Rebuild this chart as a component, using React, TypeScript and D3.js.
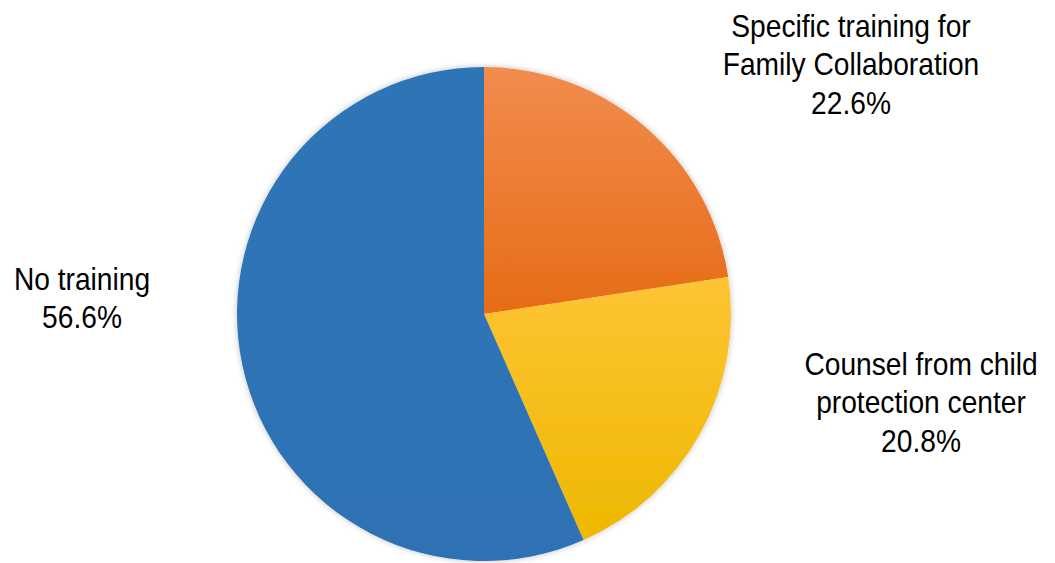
import React from "react";
import * as d3 from "d3";

const categories = ["Specific training for Family Collaboration", "Counsel from child protection center", "No training"];
const values = [22.6, 20.8, 56.6];
const labelLines = [
  ["Specific training for", "Family Collaboration", "22.6%"],
  ["Counsel from child", "protection center", "20.8%"],
  ["No training", "56.6%"],
];
const colorsTop = ["#F28C4E", "#FFC435", "#2E75B6"];
const colorsBottom = ["#E66C16", "#EDB800", "#2E72B4"];

const W = 1055, H = 563;
const cx = 484, cy = 314, R = 247;
const labelPos: [number, number][] = [[851, 37], [921, 375], [82, 290]];
const lineH = 38.5;

export default function App() {
  const pie = d3.pie<number>().sort(null).value((d) => d);
  const arcs = pie(values);
  const arc = d3.arc<d3.PieArcDatum<number>>().innerRadius(0).outerRadius(R);
  return (
    <svg width={W} height={H} style={{ position: "absolute", left: 0, top: 0, background: "#fff" }}>
      <defs>
        {categories.map((c, i) => (
          <linearGradient key={i} id={`g${i}`} x1="0" y1="0" x2="0" y2="1">
            <stop offset="0%" stopColor={colorsTop[i]} />
            <stop offset="100%" stopColor={colorsBottom[i]} />
          </linearGradient>
        ))}
        <filter id="sh" x="-10%" y="-10%" width="120%" height="120%">
          <feGaussianBlur in="SourceAlpha" stdDeviation="3" />
          <feComponentTransfer><feFuncA type="linear" slope="0.25" /></feComponentTransfer>
          <feMerge><feMergeNode /><feMergeNode in="SourceGraphic" /></feMerge>
        </filter>
      </defs>
      <g transform={`translate(${cx},${cy})`} filter="url(#sh)">
        {arcs.map((a, i) => (
          <path key={i} d={arc(a) || ""} fill={`url(#g${i})`} />
        ))}
      </g>
      {labelLines.map((lines, i) => (
        <text key={i} transform={`translate(${labelPos[i][0]},${labelPos[i][1]}) scale(0.88,1)`} textAnchor="middle" fontFamily="'Liberation Sans', Arial, sans-serif" fontSize={32} fill="#000">
          {lines.map((t, j) => (
            <tspan key={j} x={0} y={j * lineH}>{t}</tspan>
          ))}
        </text>
      ))}
    </svg>
  );
}
